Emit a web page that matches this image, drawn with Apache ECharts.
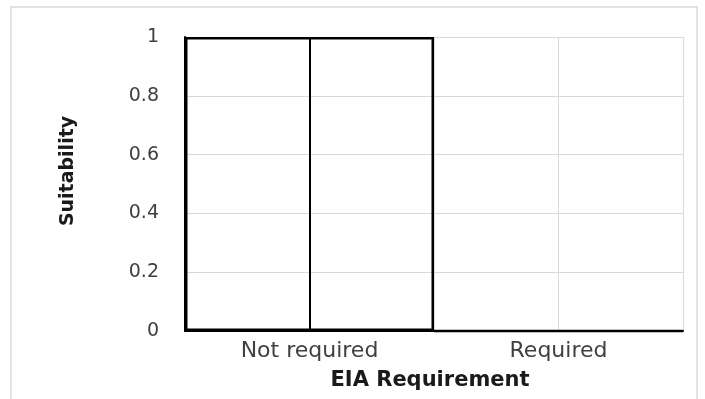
<!DOCTYPE html>
<html>
<head>
<meta charset="utf-8">
<script src="https://cdn.jsdelivr.net/npm/echarts@6/dist/echarts.min.js"></script>
<style>html,body{margin:0;padding:0;background:#fff}#c{width:705px;height:399px}</style>
</head>
<body>
<div id="c"></div>
<script>
const categories = ['Not required', 'Required'];
const suitability = [1, 0];
const yTicks = [0, 0.2, 0.4, 0.6, 0.8, 1];
const xTitle = 'EIA Requirement';
const yTitle = 'Suitability';

const chart = echarts.init(document.getElementById('c'), null, {renderer: 'canvas'});
chart.setOption({
  animation: false,
  backgroundColor: '#fff',
  grid: {left: 185, right: 22, top: 37, bottom: 68},
  xAxis: [{
    type: 'category',
    data: categories,
    boundaryGap: true,
    axisLine: {lineStyle: {color: '#000', width: 2}},
    axisTick: {show: false},
    splitLine: {show: false},
    axisLabel: {fontFamily: 'DejaVu Sans', fontSize: 22, color: '#404040', margin: 9}
  }, {
    type: 'value', position: 'top', min: 0, max: categories.length, interval: 0.5,
    axisLine: {show: false}, axisTick: {show: false}, axisLabel: {show: false},
    splitLine: {show: true, lineStyle: {color: '#d9d9d9', width: 1}}
  }],
  yAxis: {
    type: 'value', min: yTicks[0], max: yTicks[yTicks.length - 1], interval: 0.2,
    axisLine: {show: true, lineStyle: {color: '#000', width: 2}},
    axisTick: {show: false},
    splitLine: {lineStyle: {color: '#d9d9d9', width: 1}},
    axisLabel: {fontFamily: 'DejaVu Sans', fontSize: 19, color: '#404040', margin: 26}
  },
  series: [{
    type: 'bar',
    xAxisIndex: 0,
    data: suitability,
    barWidth: '100%',
    itemStyle: {color: 'rgba(0,0,0,0)', borderColor: '#000', borderWidth: 2.5},
    markLine: {
      silent: true, symbol: 'none', label: {show: false},
      lineStyle: {color: '#000', width: 2, type: 'solid'},
      data: [[{coord: [categories[0], 0]}, {coord: [categories[0], suitability[0]]}]]
    }
  }],
  graphic: [
    {type: 'rect', shape: {x: 11, y: 7, width: 686, height: 400}, style: {fill: 'none', stroke: '#e3e3e3', lineWidth: 2}, z: -1},
    {type: 'text', x: 430, y: 381, style: {text: xTitle, font: 'bold 21px "DejaVu Sans"', fill: '#1a1a1a', textAlign: 'center', textVerticalAlign: 'middle'}},
    {type: 'text', x: 68, y: 171, rotation: Math.PI / 2, style: {text: yTitle, font: 'bold 19px "DejaVu Sans"', fill: '#1a1a1a', textAlign: 'center', textVerticalAlign: 'middle'}}
  ]
});
</script>
</body>
</html>
